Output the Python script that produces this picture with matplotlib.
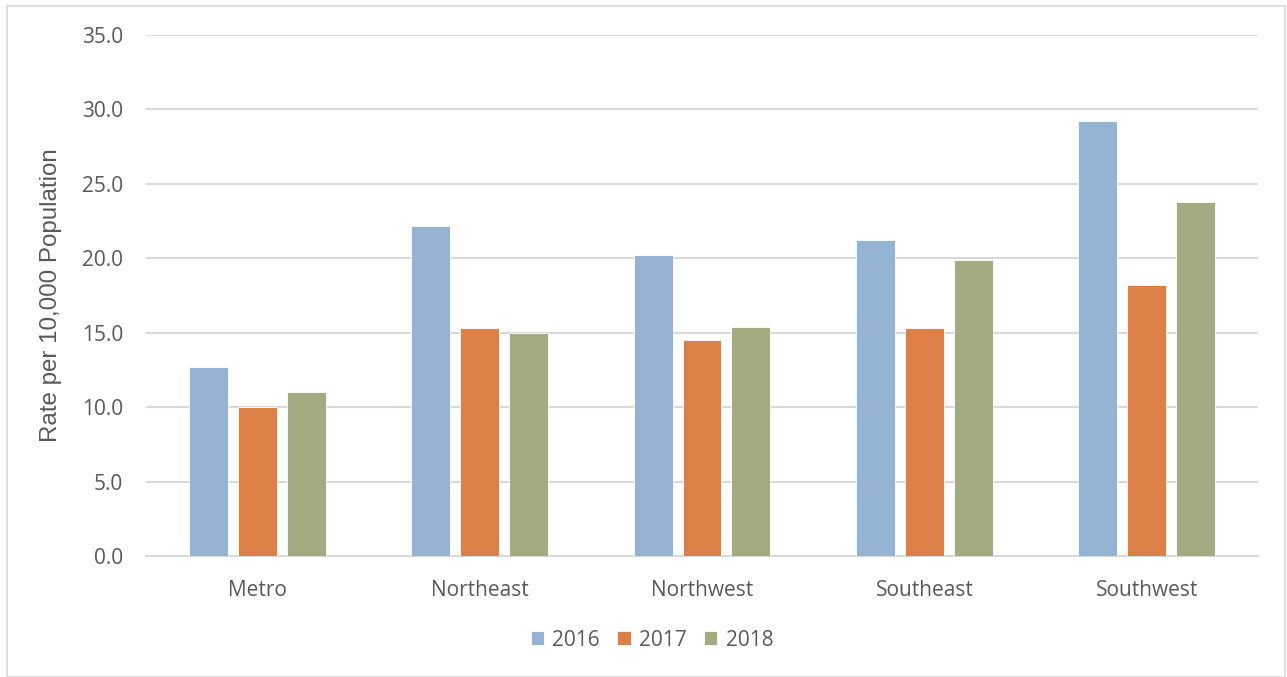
import matplotlib.pyplot as plt
import numpy as np
from matplotlib.patches import Rectangle

regions = ['Metro', 'Northeast', 'Northwest', 'Southeast', 'Southwest']
years = ['2016', '2017', '2018']
rate_2016 = [12.7, 22.2, 20.2, 21.2, 29.2]
rate_2017 = [10.0, 15.3, 14.5, 15.3, 18.2]
rate_2018 = [11.0, 15.0, 15.4, 19.9, 23.8]

colors = ['#95b3d3', '#dd8047', '#a5ab80']
text_col = '#595959'
grid_col = '#d9d9d9'

plt.rcParams['font.family'] = ['Open Sans', 'DejaVu Sans']

fig = plt.figure(figsize=(12.87, 6.77), dpi=100)
W, H = 1287, 677
ax = fig.add_axes([146 / W, 1 - 556 / H, (1258 - 146) / W, (556 - 35) / H])

x = np.arange(len(regions))
width = 0.175
step = 0.22
for i, (vals, yr) in enumerate(zip([rate_2016, rate_2017, rate_2018], years)):
    ax.bar(x + (i - 1) * step, vals, width, color=colors[i], label=yr,
           edgecolor='white', linewidth=0.6, zorder=3)

ax.set_xlim(-0.5, len(regions) - 0.5)
ax.set_ylim(0, 35)
ax.set_yticks(np.arange(0, 35.1, 5))
ax.set_yticklabels([f'{v:.1f}' for v in np.arange(0, 35.1, 5)])
ax.set_xticks(x)
ax.set_xticklabels(regions)
ax.tick_params(axis='both', length=0, labelsize=15, colors=text_col)
ax.tick_params(axis='y', pad=16.5)
ax.tick_params(axis='x', pad=17)
ax.yaxis.grid(True, color=grid_col, linewidth=1.5, zorder=0)
for s in ['top', 'right', 'left']:
    ax.spines[s].set_visible(False)
ax.spines['bottom'].set_color(grid_col)
ax.spines['bottom'].set_linewidth(1.5)

ax.set_ylabel('Rate per 10,000 Population', fontsize=17.4, color=text_col,
              family=['Liberation Sans', 'DejaVu Sans'])
ax.yaxis.set_label_coords((62 - 146) / (1258 - 146), 0.5)

leg = fig.legend(loc='center', bbox_to_anchor=(652 / W, 1 - 640 / H), ncol=3,
                 frameon=False, fontsize=15, handlelength=0.65, handleheight=0.65,
                 columnspacing=0.82, handletextpad=0.4)
for t in leg.get_texts():
    t.set_color(text_col)

fig.patches.append(Rectangle((7 / W, 0), (1285 - 7) / W, 1 - 6 / H,
                             transform=fig.transFigure, fill=False,
                             edgecolor=grid_col, linewidth=1.2))

fig.savefig('out.png', dpi=100)
